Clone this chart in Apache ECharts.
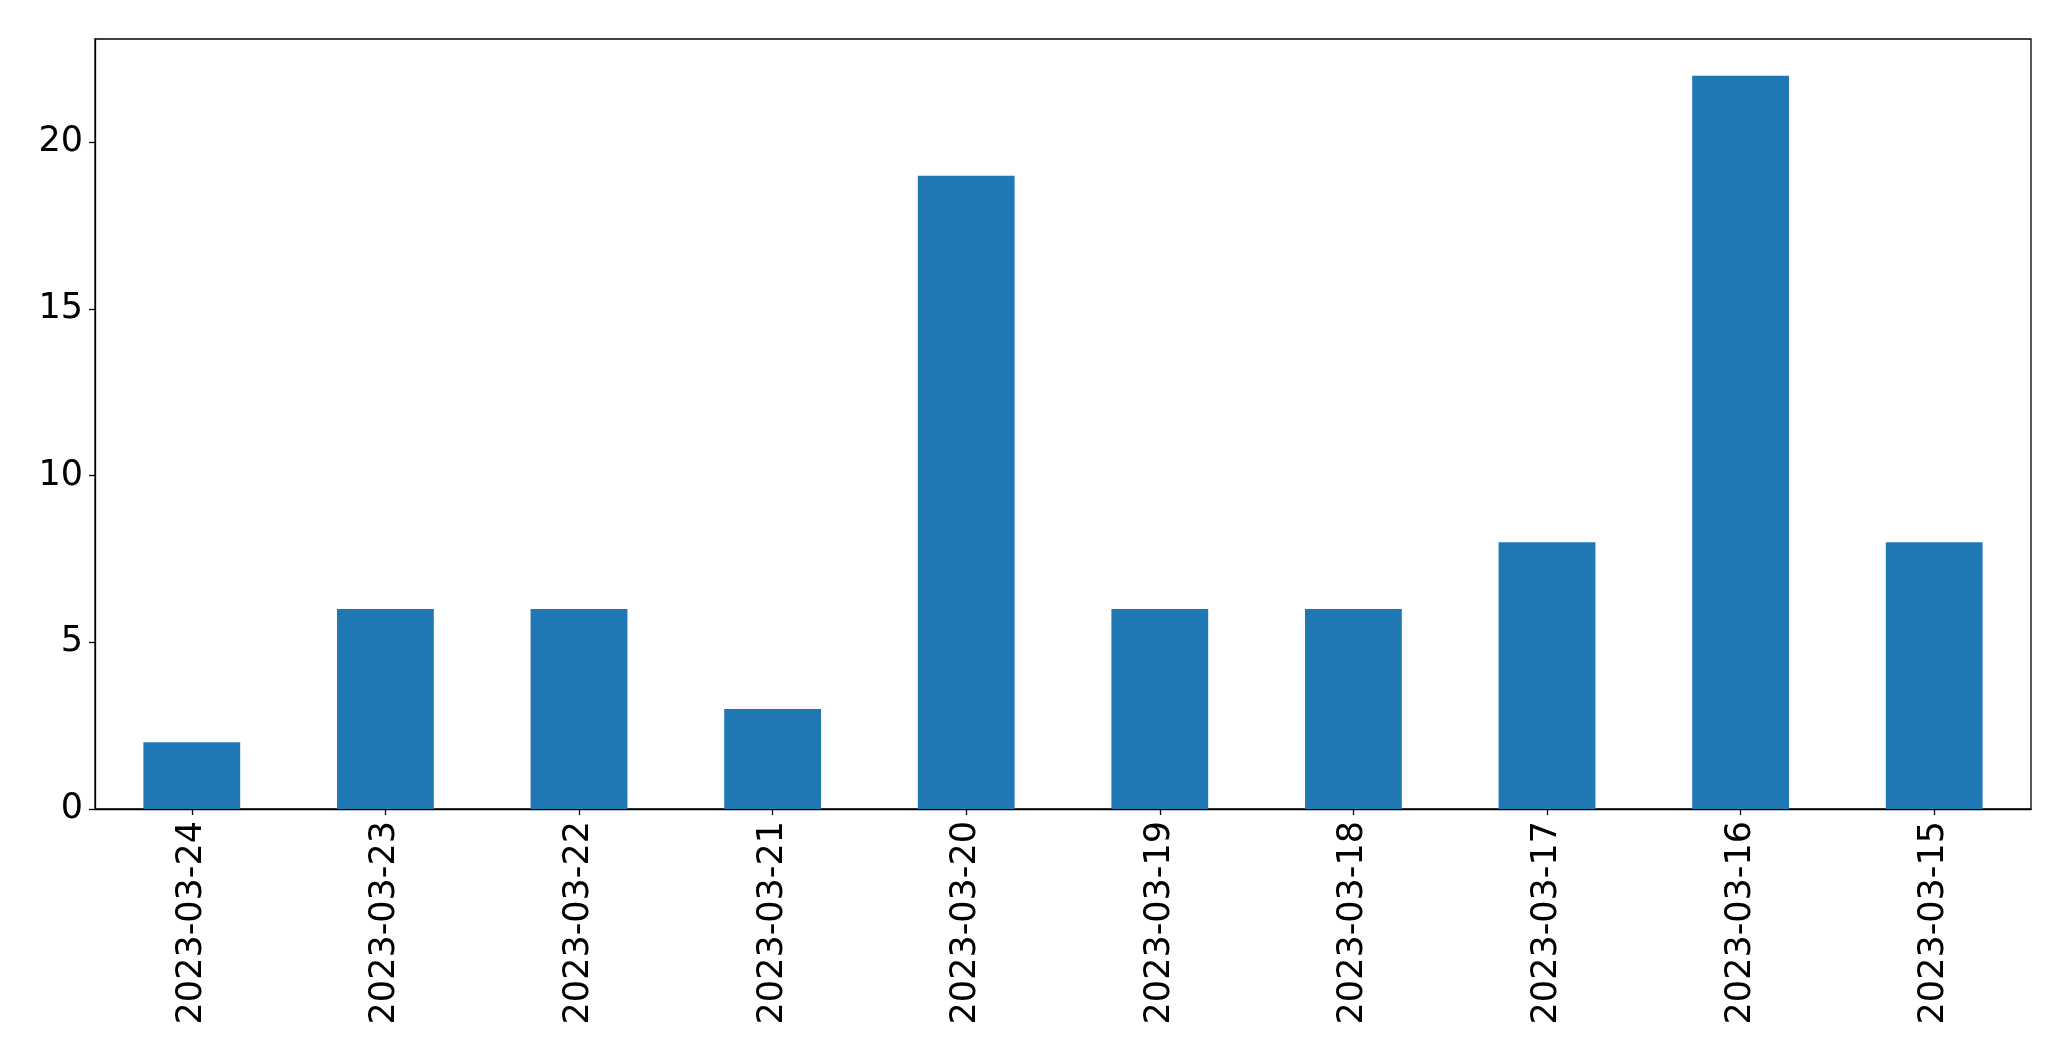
<!DOCTYPE html>
<html>
<head>
<meta charset="utf-8">
<script src="https://cdn.jsdelivr.net/npm/echarts@6/dist/echarts.min.js"></script>
<style>
html,body{margin:0;padding:0;background:#fff;}
#chart{width:2071px;height:1061px;}
</style>
</head>
<body>
<div id="chart"></div>
<script>
const categories = ['2023-03-24','2023-03-23','2023-03-22','2023-03-21','2023-03-20','2023-03-19','2023-03-18','2023-03-17','2023-03-16','2023-03-15'];
const values = [2, 6, 6, 3, 19, 6, 6, 8, 22, 8];
const yTicks = [0, 5, 10, 15, 20];

const chart = echarts.init(document.getElementById('chart'), null, {renderer: 'canvas'});
const font = 'DejaVu Sans';
chart.setOption({
  animation: false,
  backgroundColor: '#ffffff',
  grid: {
    left: 95, right: 40, top: 39, bottom: 252,
    show: true, borderColor: '#000', borderWidth: 1.3, backgroundColor: 'transparent'
  },
  xAxis: {
    type: 'category',
    data: categories,
    boundaryGap: true,
    axisLine: {show: true, lineStyle: {color: '#000', width: 1.3}},
    axisTick: {show: true, alignWithLabel: true, length: 6, lineStyle: {color: '#000', width: 1.3}},
    axisLabel: {rotate: 90, margin: 12, color: '#000', fontFamily: font, fontSize: 35, interval: 0},
    splitLine: {show: false}
  },
  yAxis: {
    type: 'value',
    min: 0,
    max: 23.1,
    interval: 5,
    axisLine: {show: true, lineStyle: {color: '#000', width: 1.3}},
    axisTick: {show: true, length: 6, lineStyle: {color: '#000', width: 1.3}},
    axisLabel: {
      margin: 12, color: '#000', fontFamily: font, fontSize: 35,
      showMaxLabel: false,
      formatter: function (v) { return yTicks.indexOf(v) >= 0 ? String(v) : ''; }
    },
    splitLine: {show: false}
  },
  series: [{
    type: 'bar',
    data: values,
    barWidth: '50%',
    itemStyle: {color: '#1f77b4'}
  }]
});
</script>
</body>
</html>
